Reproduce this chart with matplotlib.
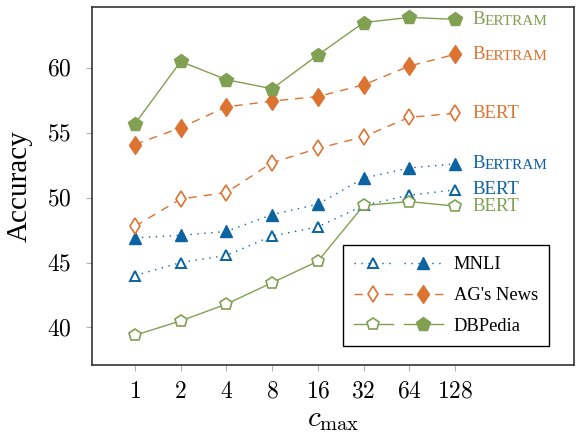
import matplotlib
matplotlib.use("Agg")
import matplotlib.pyplot as plt
from matplotlib.legend_handler import HandlerTuple

plt.rcParams['font.family'] = ['Liberation Serif', 'DejaVu Serif']
plt.rcParams['mathtext.fontset'] = 'cm'

cmax = ["1", "2", "4", "8", "16", "32", "64", "128"]
yticks = [40, 45, 50, 55, 60]

mnli_bert = [44.0, 45.0, 45.55, 47.05, 47.75, 49.4, 50.2, 50.6]
mnli_bertram = [46.9, 47.1, 47.4, 48.7, 49.5, 51.5, 52.3, 52.6]
ag_bert = [47.8, 49.9, 50.4, 52.7, 53.8, 54.7, 56.2, 56.5]
ag_bertram = [54.1, 55.4, 57.0, 57.45, 57.8, 58.7, 60.15, 61.05]
db_bert = [39.4, 40.5, 41.8, 43.45, 45.1, 49.4, 49.7, 49.35]
db_bertram = [55.7, 60.5, 59.1, 58.4, 61.0, 63.5, 63.9, 63.75]

blue = '#0b63a1'
orange = '#dc7331'
green = '#80a052'

fig = plt.figure(figsize=(5.76, 4.36), dpi=100)
ax = fig.add_axes([0.1597, 0.1628, 0.8368, 0.8211])
x = list(range(len(cmax)))

lw = 1.0
# MNLI
l1, = ax.plot(x, mnli_bert, color=blue, lw=lw, ls=(0, (1, 4)), marker='^',
              ms=7, mfc='white', mec=blue, mew=1.4)
l2, = ax.plot(x, mnli_bertram, color=blue, lw=lw, ls=(0, (1, 4)), marker='^',
              ms=8, mfc=blue, mec=blue)
# AG's News
l3, = ax.plot(x, ag_bert, color=orange, lw=lw, ls=(0, (6, 5)), marker='d',
              ms=8.5, mfc='white', mec=orange, mew=1.2)
l4, = ax.plot(x, ag_bertram, color=orange, lw=lw, ls=(0, (6, 5)), marker='d',
              ms=9.5, mfc=orange, mec=orange)
# DBPedia
l5, = ax.plot(x, db_bert, color=green, lw=lw, marker='p',
              ms=9, mfc='white', mec=green, mew=1.2)
l6, = ax.plot(x, db_bertram, color=green, lw=lw, marker='p',
              ms=10, mfc=green, mec=green)

# end labels
def smallcaps(xv, yv, color):
    t = ax.text(xv, yv, "B", color=color, fontsize=13.5, va='center')
    ax.annotate("ERTRAM", xy=(1, 0), xycoords=t, color=color, fontsize=11,
                va='bottom', ha='left')

xl = 7.37
smallcaps(xl, db_bertram[-1], green)
smallcaps(xl, ag_bertram[-1], orange)
smallcaps(xl, mnli_bertram[-1], blue)
ax.text(xl, ag_bert[-1], "BERT", color=orange, fontsize=13.5, va='center')
ax.text(xl, mnli_bert[-1], "BERT", color=blue, fontsize=13.5, va='center')
ax.text(xl, db_bert[-1], "BERT", color=green, fontsize=13.5, va='center')

ax.set_xlim(-0.94, 9.6)
ax.set_ylim(37.1, 64.7)
ax.set_xticks(x)
ax.set_xticklabels(["$%s$" % c for c in cmax], fontsize=17)
ax.set_yticks(yticks)
ax.set_yticklabels(["$%d$" % v for v in yticks], fontsize=17)
ax.tick_params(axis='y', pad=11)
ax.tick_params(axis='x', pad=8)
ax.tick_params(direction='out', length=4, width=0.8, color='#b0b0b0')
for s in ax.spines.values():
    s.set_color('#333333')
    s.set_linewidth(1.2)

ax.set_ylabel("Accuracy", fontsize=21, labelpad=10)
ax.set_xlabel(r"$c_{\max}$", fontsize=21, labelpad=3)

leg = ax.legend([(l1, l2), (l3, l4), (l5, l6)], ["MNLI", "AG's News", "DBPedia"],
                handler_map={tuple: HandlerTuple(ndivide=None, pad=0.6)},
                handlelength=4.8, loc='lower right', bbox_to_anchor=(0.948, 0.053),
                borderaxespad=0, fancybox=False, edgecolor='black', fontsize=13.3,
                framealpha=1, labelspacing=0.75, handletextpad=0.6,
                borderpad=0.6)
leg.get_frame().set_linewidth(1.0)

fig.savefig("out.png", dpi=100)
